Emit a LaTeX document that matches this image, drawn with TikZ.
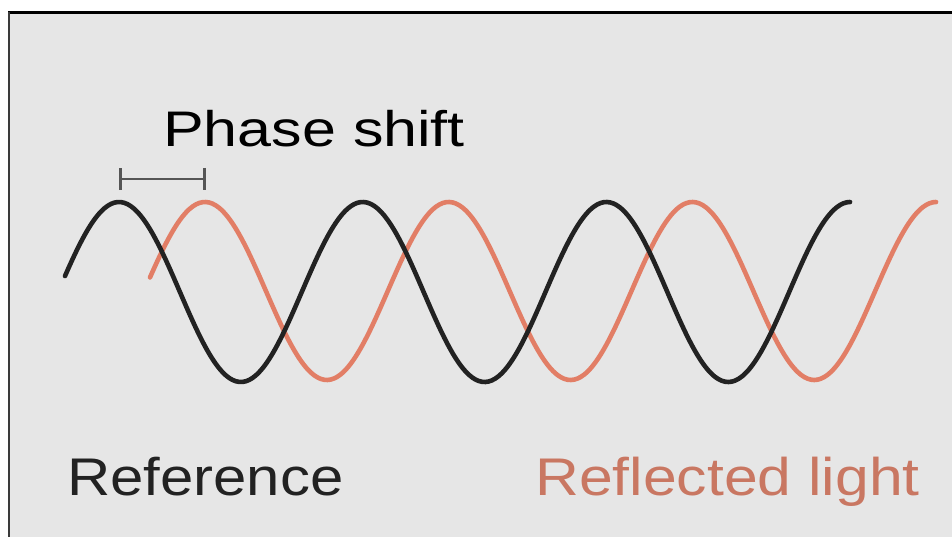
\documentclass[tikz,border=0pt]{standalone}
\usepackage{fontspec}
\setmainfont{Liberation Sans}
\usetikzlibrary{arrows.meta}
\definecolor{bggray}{HTML}{E6E6E6}
\definecolor{wavedark}{HTML}{222222}
\definecolor{wavered}{HTML}{E27E66}
\definecolor{textred}{HTML}{C97762}
\definecolor{bargray}{HTML}{555555}
\definecolor{framedark}{HTML}{3A3A3A}
\tikzset{
  wave/.style={line width=4.6pt, line cap=round, line join=round},
  label/.style={inner sep=0pt, anchor=base west},
}
\begin{document}
\begin{tikzpicture}[x=1pt, y=-1pt]
\useasboundingbox (0,0) rectangle (952,537);
\fill[white] (0,0) rectangle (952,537);
\fill[bggray] (9,13) rectangle (952,537);
\draw[line width=3pt, black] (8,13) -- (952,13);
\draw[line width=2.5pt, framedark] (9,12) -- (9,537);
% waves
\draw[wave, wavered] plot[domain=150:936, samples=240, smooth] (\x, {291 - 89*cos((\x-205)/243.7*360)});
\draw[wave, wavedark] plot[domain=65:850, samples=240, smooth] (\x, {292 - 90*cos((\x-119)/243.7*360)});
% phase shift bar
\coordinate (b1) at (119,179);
\coordinate (b2) at (206,179);
\draw[bargray, line width=2.8pt, {Bar[width=22pt,line width=2.8pt]}-{Bar[width=22pt,line width=2.8pt]}] (b1) -- (b2);
% labels
\node[label] (ps) at (163,147) {\fontsize{50}{56}\selectfont\scalebox{1.22}[1]{Phase shift}};
\node[label, text=wavedark] (ref) at (67,495) {\fontsize{53}{60}\selectfont\scalebox{1.13}[1]{Reference}};
\node[label, text=textred] (refl) at (535,495) {\fontsize{53}{60}\selectfont\scalebox{1.145}[1]{Reflected light}};
\end{tikzpicture}
\end{document}
